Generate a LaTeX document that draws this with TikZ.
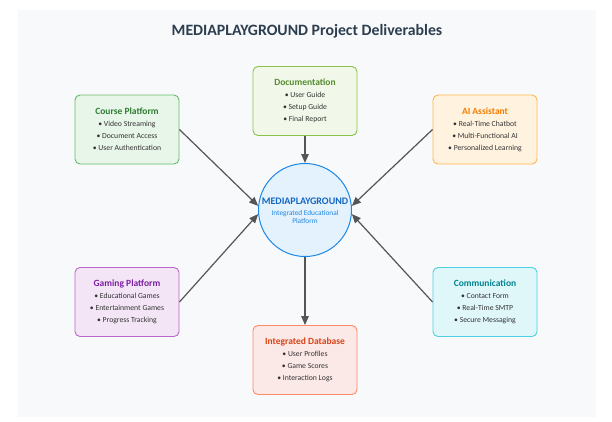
\documentclass[tikz,border=0pt]{standalone}
\usepackage{fontspec}
\setmainfont{Carlito}
\usepackage{xcolor}
\usetikzlibrary{arrows.meta}

\definecolor{panelbg}{HTML}{F8F9FA}
\definecolor{headcol}{HTML}{2C3E50}
\definecolor{itemcol}{HTML}{333333}
\definecolor{linkcol}{HTML}{555555}
\definecolor{courseline}{HTML}{66BB6A}
\definecolor{coursefill}{HTML}{E8F5E9}
\definecolor{coursetext}{HTML}{2E7D32}
\definecolor{docline}{HTML}{8BC34A}
\definecolor{docfill}{HTML}{F1F8E9}
\definecolor{doctext}{HTML}{558B2F}
\definecolor{ailine}{HTML}{FFB74D}
\definecolor{aifill}{HTML}{FFF3E0}
\definecolor{aitext}{HTML}{F57C00}
\definecolor{gameline}{HTML}{BA68C8}
\definecolor{gamefill}{HTML}{F3E5F5}
\definecolor{gametext}{HTML}{7B1FA2}
\definecolor{dbline}{HTML}{FF8A65}
\definecolor{dbfill}{HTML}{FBE9E7}
\definecolor{dbtext}{HTML}{D84315}
\definecolor{commline}{HTML}{4DD0E1}
\definecolor{commfill}{HTML}{E0F7FA}
\definecolor{commtext}{HTML}{00838F}
\definecolor{hubline}{HTML}{1E88E5}
\definecolor{hubfill}{HTML}{E3F2FD}
\definecolor{hubtext}{HTML}{1565C0}
\definecolor{hubsub}{HTML}{1E88E5}

\newcommand{\deltitle}[2]{{\fontsize{9.5}{12}\selectfont\bfseries\color{#1}#2}}

\tikzset{
  deliverable/.style={rectangle, rounded corners=5pt, line width=0.9pt,
    minimum width=104pt, minimum height=69pt, align=center,
    font=\fontsize{7.7}{12}\selectfont, text=itemcol},
  hubcircle/.style={circle, draw=hubline, fill=hubfill, line width=1pt,
    minimum size=93pt, inner sep=0pt},
  link/.style={draw=linkcol, line width=1.2pt, -{Triangle[length=9pt,width=7.5pt]}}
}

\begin{document}
\begin{tikzpicture}[x=1pt, y=-1pt]
        \useasboundingbox (0,0) rectangle (612,421);
        \fill[panelbg] (18,10) rectangle (596,417);

        % Title
        \node[font=\fontsize{15.8}{18}\selectfont\bfseries, text=headcol] (title) at (307,31)
            {MEDIAPLAYGROUND Project Deliverables};

        % Hub
        \node[hubcircle] (hub) at (305,210) {};
        \node[align=center, inner sep=0pt, font=\fontsize{7.3}{8.7}\selectfont, text=hubsub] (hublabel) at (305,211)
            {{\fontsize{10}{12}\selectfont\bfseries\color{hubtext}MEDIAPLAYGROUND}\\[1.5pt]
             Integrated Educational\\Platform};

        % Deliverables
        \node[deliverable, draw=courseline, fill=coursefill] (course) at (127,129.5)
            {\deltitle{coursetext}{Course Platform}\\ • Video Streaming\\ • Document Access\\ • User Authentication};
        \node[deliverable, draw=docline, fill=docfill] (doc) at (305,101)
            {\deltitle{doctext}{Documentation}\\ • User Guide\\ • Setup Guide\\ • Final Report};
        \node[deliverable, draw=ailine, fill=aifill] (ai) at (485,129.5)
            {\deltitle{aitext}{AI Assistant}\\ • Real-Time Chatbot\\ • Multi-Functional AI\\ • Personalized Learning};
        \node[deliverable, draw=gameline, fill=gamefill] (game) at (127,302)
            {\deltitle{gametext}{Gaming Platform}\\ • Educational Games\\ • Entertainment Games\\ • Progress Tracking};
        \node[deliverable, draw=dbline, fill=dbfill] (db) at (305,360)
            {\deltitle{dbtext}{Integrated Database}\\ • User Profiles\\ • Game Scores\\ • Interaction Logs};
        \node[deliverable, draw=commline, fill=commfill] (comm) at (485,302)
            {\deltitle{commtext}{Communication}\\ • Contact Form\\ • Real-Time SMTP\\ • Secure Messaging};

        % Arrows
        \draw[link] (course.east) -- (hub.175);
        \draw[link] (game.east) -- (hub.185);
        \draw[link] (ai.west) -- (hub.5);
        \draw[link] (comm.west) -- (hub.-5);
        \draw[link] (doc.south) -- (hub.north);
        \draw[link] (hub.south) -- (db.north);
    \end{tikzpicture}
\end{document}
